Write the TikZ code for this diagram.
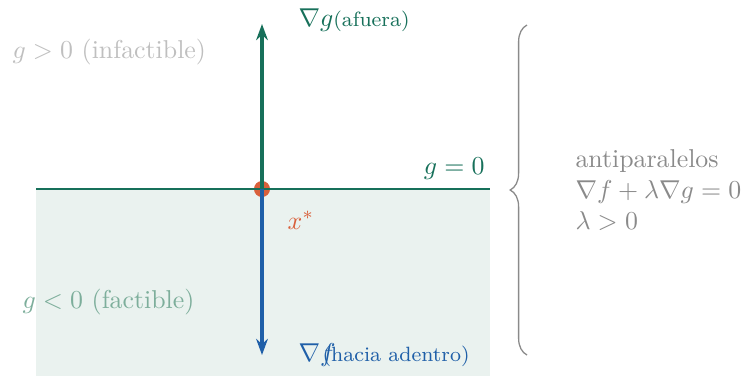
\documentclass[tikz,border=0pt]{standalone}
\usepackage{amsmath}
\usepackage{amssymb}
\usepackage{xcolor}
\usetikzlibrary{arrows.meta,positioning,decorations.pathreplacing}

\definecolor{gverde}{HTML}{17705A}
\definecolor{fazul}{HTML}{1F5FA8}
\definecolor{xnaranja}{HTML}{D9603B}
\definecolor{zona}{HTML}{EAF2EF}
\definecolor{zonatxt}{HTML}{7DAE9B}
\definecolor{nota}{HTML}{8A8A8A}

\begin{document}
\begin{tikzpicture}[
   x=0.387pt,y=-0.387pt,
   >={Stealth[length=2.2mm,width=1.6mm]},
   grad/.style={->,line width=1.6pt},
   borde/.style={gverde,line width=0.8pt},
   lbl/.style={anchor=base west,inner sep=0pt}
  ]
  \useasboundingbox (0,0) rectangle (748,376);
  \fill[zona] (36,189) rectangle (490,376);

  \coordinate (izq)  at (36,189);
  \coordinate (der)  at (490,189);
  \coordinate (xs)   at (262,189);
  \coordinate (gtip) at (262,24);
  \coordinate (ftip) at (262,355);

  \fill[xnaranja] (xs) circle[radius=3.1pt];
  \draw[borde] (izq) -- (der);
  \draw[grad,gverde] (xs) -- (gtip);
  \draw[grad,fazul]  (xs) -- (ftip);

  \node[lbl,text=gverde] (gl) at (298,26) {$\nabla g$\footnotesize(afuera)};
  \node[lbl,text=fazul]  (fl) at (298,361) {$\nabla f$\hspace{-5pt}\footnotesize(hacia adentro)};
  \node[lbl,text=xnaranja] (xl) at (287,229) {$x^*$};
  \node[anchor=base east,inner sep=0pt,text=gverde] (g0) at (485,174) {$g=0$};
  \node[lbl,text=black!25] (inf) at (12,58) {$g>0$ (infactible)};
  \node[lbl,text=zonatxt] (fac) at (22,308) {$g<0$ (factible)};

  \draw[nota,line width=0.5pt,decorate,decoration={brace,amplitude=6.5pt}] (527,355) -- (527,25);
  \node[lbl,text=nota] (ap) at (575,167) {antiparalelos};
  \node[text=nota,inner sep=0pt,below=12pt of ap.base west,anchor=base west] (eq) {$\nabla f+\lambda\nabla g=0$};
  \node[text=nota,inner sep=0pt,below=12pt of eq.base west,anchor=base west] (lam) {$\lambda>0$};
\end{tikzpicture}
\end{document}
